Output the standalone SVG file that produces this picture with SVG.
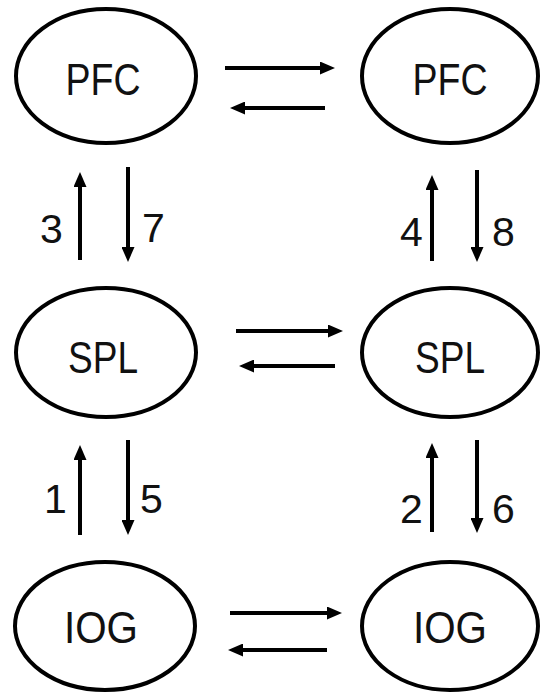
<svg xmlns="http://www.w3.org/2000/svg" width="549" height="695" viewBox="0 0 549 695">
  <style>
    .node ellipse { fill: #ffffff; stroke: #000000; stroke-width: 4; }
    .node text { font-family: "Liberation Sans", Arial, sans-serif; font-size: 44px; fill: #111111; text-anchor: middle; }
    .edges line { stroke: #000000; stroke-width: 4; marker-end: url(#head); }
    .edges text { font-family: "Liberation Sans", Arial, sans-serif; font-size: 41px; fill: #111111; text-anchor: middle; }
  </style>
  <defs>
    <marker id="head" markerUnits="userSpaceOnUse" markerWidth="16" markerHeight="13" refX="0" refY="6.5" orient="auto">
      <path d="M0,0 L15,6.5 L0,13 z" fill="#000000"/>
    </marker>
  </defs>
  <rect width="549" height="695" fill="#ffffff"/>

  <!-- nodes -->
  <g id="pfc-left" class="node">
    <ellipse cx="106" cy="76" rx="90" ry="67"/>
    <text x="103" y="95" textLength="75" lengthAdjust="spacingAndGlyphs">PFC</text>
  </g>
  <g id="pfc-right" class="node">
    <ellipse cx="450" cy="76" rx="88" ry="67"/>
    <text x="450" y="95" textLength="75" lengthAdjust="spacingAndGlyphs">PFC</text>
  </g>
  <g id="spl-left" class="node">
    <ellipse cx="106" cy="352.5" rx="90" ry="64.5"/>
    <text x="103" y="373" textLength="70" lengthAdjust="spacingAndGlyphs">SPL</text>
  </g>
  <g id="spl-right" class="node">
    <ellipse cx="450" cy="352.5" rx="88" ry="64.5"/>
    <text x="450" y="373" textLength="70" lengthAdjust="spacingAndGlyphs">SPL</text>
  </g>
  <g id="iog-left" class="node">
    <ellipse cx="105" cy="626" rx="90" ry="64"/>
    <text x="101" y="643" textLength="74" lengthAdjust="spacingAndGlyphs">IOG</text>
  </g>
  <g id="iog-right" class="node">
    <ellipse cx="450" cy="626" rx="88" ry="64"/>
    <text x="450" y="643" textLength="74" lengthAdjust="spacingAndGlyphs">IOG</text>
  </g>

  <!-- connectors -->
  <g id="edges" class="edges">
    <!-- horizontal pairs -->
    <line x1="225" y1="68" x2="320" y2="68"/>
    <line x1="325" y1="108" x2="245" y2="108"/>
    <line x1="236" y1="331" x2="328" y2="331"/>
    <line x1="335" y1="366" x2="254" y2="366"/>
    <line x1="230" y1="613" x2="327" y2="613"/>
    <line x1="327" y1="650" x2="243" y2="650"/>

    <!-- vertical pairs, upper -->
    <line x1="80" y1="260" x2="80" y2="187"/>
    <line x1="128" y1="167" x2="128" y2="247"/>
    <line x1="432" y1="261" x2="432" y2="190"/>
    <line x1="477" y1="170" x2="477" y2="247"/>

    <!-- vertical pairs, lower -->
    <line x1="80" y1="535" x2="80" y2="460"/>
    <line x1="128" y1="440" x2="128" y2="520"/>
    <line x1="432" y1="532" x2="432" y2="458"/>
    <line x1="477" y1="440" x2="477" y2="518"/>

    <!-- order labels -->
    <text x="51.5" y="243">3</text>
    <text x="153.5" y="242">7</text>
    <text x="411.5" y="246">4</text>
    <text x="503.5" y="246">8</text>
    <text x="55.5" y="513">1</text>
    <text x="151.5" y="513">5</text>
    <text x="411.5" y="523">2</text>
    <text x="503.5" y="523">6</text>
  </g>
</svg>
